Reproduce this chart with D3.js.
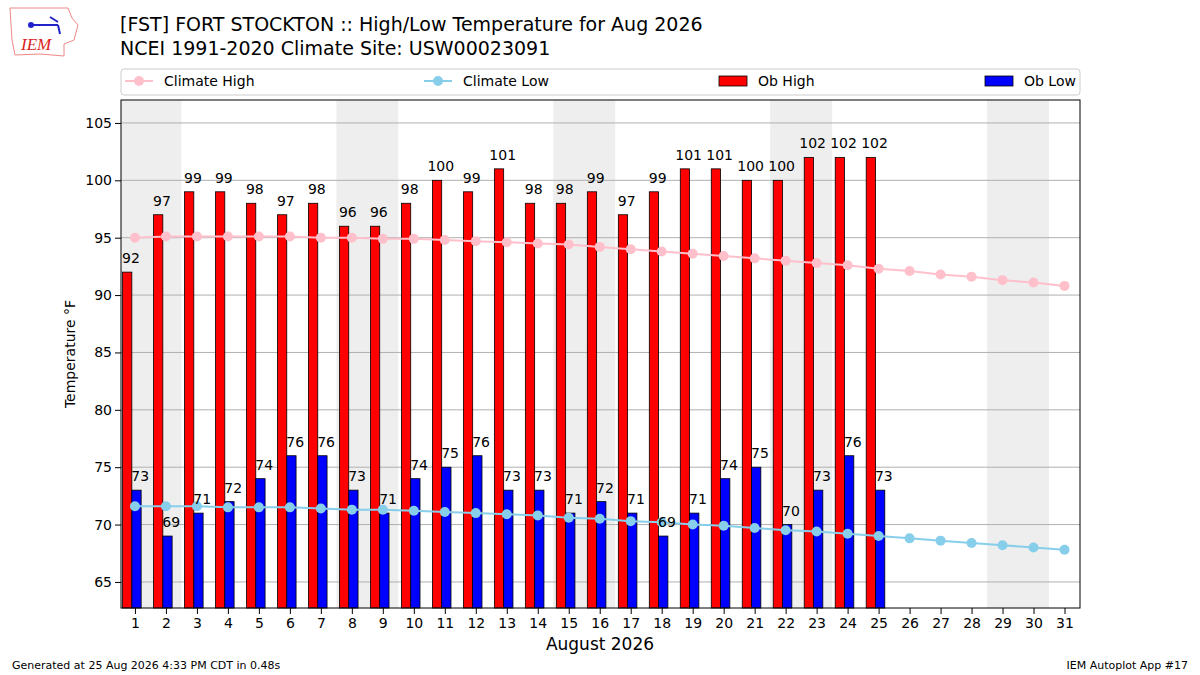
<!DOCTYPE html>
<html><head><meta charset="utf-8">
<script src="https://cdn.jsdelivr.net/npm/d3@7"></script>
<style>body{margin:0;background:#fff}svg{font-family:"DejaVu Sans",sans-serif}</style>
</head><body><svg id="c" width="1200" height="675"></svg>
<script>
const days = d3.range(1, 32);
const obHigh = [92,97,99,99,98,97,98,96,96,98,100,99,101,98,98,99,97,99,101,101,100,100,102,102,102];
const obLow = [73,69,71,72,74,76,76,73,71,74,75,76,73,73,71,72,71,69,71,74,75,70,73,76,73];
const climHigh = [95.0,95.1,95.1,95.1,95.1,95.1,95.0,95.0,94.9,94.9,94.8,94.7,94.6,94.5,94.4,94.2,94.0,93.8,93.6,93.4,93.2,93.0,92.8,92.6,92.3,92.1,91.8,91.6,91.3,91.1,90.8];
const climLow = [71.6,71.6,71.6,71.5,71.5,71.5,71.4,71.3,71.3,71.2,71.1,71.0,70.9,70.8,70.6,70.5,70.3,70.2,70.0,69.9,69.7,69.5,69.4,69.2,69.0,68.8,68.6,68.4,68.2,68.0,67.8];
const weekends = [[1,2],[8,9],[15,16],[22,23],[29,30]];
const yTicks = [65,70,75,80,85,90,95,100,105];

const svg = d3.select("#c");
const L=121,R=1080,T=100,B=608;
const x = d3.scaleLinear().domain([0.55,31.5]).range([L,R]);
const y = d3.scaleLinear().domain([62.73,107]).range([B,T]);
const bw = x(0.3)-x(0);

svg.selectAll(".wk").data(weekends).join("rect")
 .attr("x",d=>Math.max(L,x(d[0]-0.5))).attr("y",T)
 .attr("width",d=>x(d[1]+0.5)-Math.max(L,x(d[0]-0.5))).attr("height",B-T).attr("fill","#eeeeee");
svg.selectAll(".g").data(yTicks).join("line").attr("x1",L).attr("x2",R)
 .attr("y1",d=>y(d)).attr("y2",d=>y(d)).attr("stroke","#b0b0b0").attr("stroke-width",1);

const hi = obHigh.map((v,i)=>({d:i+1,v})), lo = obLow.map((v,i)=>({d:i+1,v}));
svg.selectAll(".hb").data(hi).join("rect").attr("x",d=>x(d.d-0.4)).attr("width",bw)
 .attr("y",d=>y(d.v)).attr("height",d=>B-y(d.v)).attr("fill","red").attr("stroke","#000").attr("stroke-width",0.8);
svg.selectAll(".lb").data(lo).join("rect").attr("x",d=>x(d.d-0.1)).attr("width",bw)
 .attr("y",d=>y(d.v)).attr("height",d=>B-y(d.v)).attr("fill","blue").attr("stroke","#000").attr("stroke-width",0.8);

function line(arr,col){
  const pts = arr.map((v,i)=>({d:i+1,v}));
  svg.append("path").datum(pts).attr("fill","none").attr("stroke",col).attr("stroke-width",2)
   .attr("d",d3.line().x(d=>x(d.d)).y(d=>y(d.v)));
  svg.selectAll(null).data(pts).join("circle").attr("cx",d=>x(d.d)).attr("cy",d=>y(d.v)).attr("r",5).attr("fill",col);
}
line(climHigh,"pink"); line(climLow,"skyblue");

svg.selectAll(".hl").data(hi).join("text").attr("x",d=>x(d.d-0.13)).attr("y",d=>y(d.v)-9)
 .attr("text-anchor","middle").attr("font-size",14).text(d=>d.v);
svg.selectAll(".ll").data(lo).join("text").attr("x",d=>x(d.d+0.17)).attr("y",d=>y(d.v)-9)
 .attr("text-anchor","middle").attr("font-size",14).text(d=>d.v);

const ax = svg.append("g").attr("transform",`translate(0,${B})`)
 .call(d3.axisBottom(x).tickValues(days).tickFormat(d3.format("d")).tickSizeOuter(0));
ax.select(".domain").remove();
ax.selectAll("text").attr("font-size",14).attr("font-family","DejaVu Sans").attr("fill","#000").attr("dy","0.75em");
const ay = svg.append("g").attr("transform",`translate(${L},0)`)
 .call(d3.axisLeft(y).tickValues(yTicks).tickSizeOuter(0));
ay.select(".domain").remove();
ay.selectAll("text").attr("font-size",14).attr("font-family","DejaVu Sans").attr("fill","#000");
svg.append("rect").attr("x",L).attr("y",T).attr("width",R-L).attr("height",B-T).attr("fill","none").attr("stroke","#000");

svg.append("text").attr("x",600).attr("y",650).attr("text-anchor","middle").attr("font-size",17).text("August 2026");
svg.append("text").attr("transform","translate(75,354) rotate(-90)").attr("text-anchor","middle").attr("font-size",14).text("Temperature °F");

svg.append("text").attr("x",120).attr("y",31).attr("font-size",19).text("[FST] FORT STOCKTON :: High/Low Temperature for Aug 2026");
svg.append("text").attr("x",120).attr("y",55).attr("font-size",19).text("NCEI 1991-2020 Climate Site: USW00023091");
svg.append("text").attr("x",12).attr("y",669).attr("font-size",11).text("Generated at 25 Aug 2026 4:33 PM CDT in 0.48s");
svg.append("text").attr("x",1188).attr("y",669).attr("text-anchor","end").attr("font-size",11).text("IEM Autoplot App #17");

svg.append("rect").attr("x",121).attr("y",69).attr("width",959).attr("height",26).attr("rx",3).attr("fill","#fff").attr("stroke","#ccc");
const lg = [{t:"Climate High",c:"pink",x:125,k:"l"},{t:"Climate Low",c:"skyblue",x:424,k:"l"},{t:"Ob High",c:"red",x:719,k:"b"},{t:"Ob Low",c:"blue",x:985,k:"b"}];
lg.forEach(d=>{
  if(d.k==="l"){
    svg.append("line").attr("x1",d.x).attr("x2",d.x+28).attr("y1",81).attr("y2",81).attr("stroke",d.c).attr("stroke-width",2);
    svg.append("circle").attr("cx",d.x+14).attr("cy",81).attr("r",5).attr("fill",d.c);
  } else {
    svg.append("rect").attr("x",d.x).attr("y",76).attr("width",28).attr("height",10).attr("fill",d.c).attr("stroke","#000").attr("stroke-width",0.8);
  }
  svg.append("text").attr("x",d.x+39).attr("y",86).attr("font-size",14).text(d.t);
});

const lgG = svg.append("g");
lgG.append("path").attr("d","M10,8 L68,8 L72,18 L78,25 L74,40 L64,44 L64,56 L40,54 L15,55 L12,40 Z").attr("fill","none").attr("stroke","#e88").attr("stroke-width",1);
lgG.append("text").attr("x",21).attr("y",50).attr("font-size",17).attr("font-style","italic").attr("font-family","Liberation Serif").attr("fill","#d22").text("IEM");
lgG.append("path").attr("d","M30,25 L58,25 M50,17 L58,22 M58,25 L60,34").attr("stroke","#22c").attr("stroke-width",2).attr("fill","none");
lgG.append("circle").attr("cx",31).attr("cy",25).attr("r",3).attr("fill","#22c");
</script></body></html>
